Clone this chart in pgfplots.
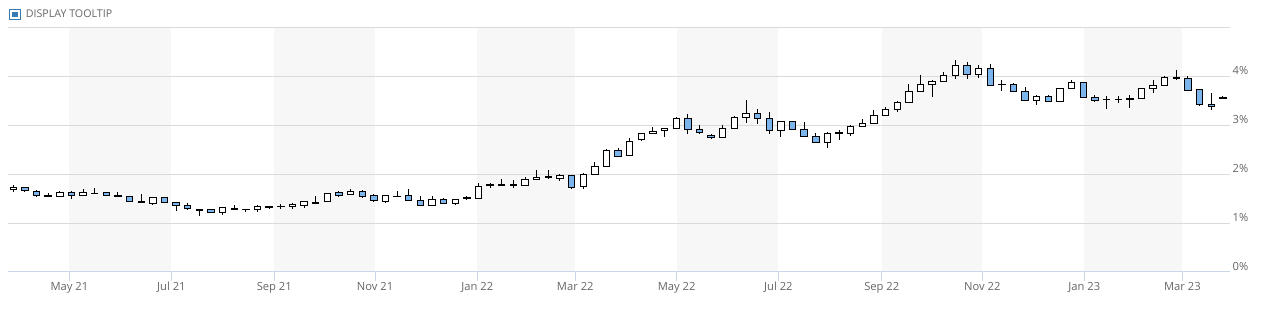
\documentclass[border=0pt]{standalone}
\usepackage{fontspec}
\setmainfont{Open Sans}
\usepackage{pgfplots}
\pgfplotsset{compat=1.18}
\usepackage{pgfplotstable}
\usepgfplotslibrary{statistics}
\definecolor{downblue}{HTML}{7CB5EC}
\definecolor{bandgray}{HTML}{F7F7F7}
\definecolor{gridgray}{HTML}{DADADA}
\definecolor{axisblue}{HTML}{CCD6EB}
\definecolor{labelgray}{HTML}{666666}
\definecolor{boxblue}{HTML}{3A7BB5}

% weekly candles: index, open, high, low, close (in %)
\pgfplotstableread{
i o h l c
0 1.68 1.77 1.64 1.73
1 1.72 1.73 1.63 1.66
2 1.65 1.68 1.54 1.56
3 1.54 1.62 1.54 1.56
4 1.55 1.66 1.55 1.62
5 1.62 1.65 1.50 1.56
6 1.57 1.69 1.57 1.62
7 1.60 1.71 1.60 1.61
8 1.62 1.62 1.57 1.57
9 1.56 1.63 1.54 1.54
10 1.55 1.56 1.44 1.44
11 1.43 1.59 1.42 1.45
12 1.41 1.53 1.37 1.53
13 1.53 1.53 1.42 1.42
14 1.43 1.44 1.25 1.35
15 1.35 1.42 1.28 1.29
16 1.26 1.28 1.14 1.28
17 1.27 1.27 1.22 1.22
18 1.22 1.31 1.16 1.31
19 1.28 1.37 1.27 1.29
20 1.27 1.29 1.22 1.28
21 1.27 1.37 1.22 1.33
22 1.31 1.34 1.30 1.33
23 1.33 1.39 1.29 1.345
24 1.33 1.41 1.29 1.38
25 1.35 1.44 1.30 1.44
26 1.41 1.56 1.41 1.43
27 1.44 1.61 1.44 1.61
28 1.62 1.65 1.54 1.57
29 1.58 1.69 1.58 1.65
30 1.64 1.67 1.53 1.54
31 1.56 1.60 1.45 1.46
32 1.45 1.56 1.42 1.56
33 1.54 1.65 1.54 1.55
34 1.56 1.70 1.47 1.47
35 1.47 1.56 1.36 1.36
36 1.36 1.55 1.36 1.48
37 1.48 1.52 1.39 1.41
38 1.41 1.49 1.36 1.49
39 1.50 1.56 1.47 1.52
40 1.51 1.81 1.51 1.75
41 1.76 1.82 1.71 1.78
42 1.76 1.90 1.76 1.78
43 1.77 1.89 1.71 1.79
44 1.77 1.95 1.77 1.90
45 1.90 2.08 1.90 1.94
46 1.93 2.08 1.92 1.95
47 1.92 2.01 1.85 1.97
48 1.97 1.97 1.69 1.73
49 1.75 2.03 1.70 1.99
50 1.99 2.25 1.99 2.15
51 2.16 2.52 2.16 2.48
52 2.49 2.54 2.34 2.37
53 2.38 2.73 2.38 2.66
54 2.71 2.83 2.68 2.83
55 2.83 2.97 2.83 2.88
56 2.90 2.94 2.75 2.94
57 2.94 3.16 2.94 3.14
58 3.14 3.23 2.83 2.91
59 2.92 3.01 2.82 2.86
60 2.79 2.82 2.72 2.75
61 2.75 3.00 2.75 2.94
62 2.94 3.18 2.94 3.16
63 3.16 3.51 3.05 3.24
64 3.24 3.33 3.03 3.14
65 3.14 3.26 2.83 2.90
66 2.90 3.09 2.76 3.08
67 3.08 3.09 2.91 2.91
68 2.91 3.06 2.77 2.77
69 2.76 2.84 2.64 2.64
70 2.64 2.87 2.53 2.83
71 2.83 2.91 2.69 2.85
72 2.83 3.01 2.78 2.97
73 2.97 3.12 2.97 3.03
74 3.03 3.31 3.03 3.20
75 3.20 3.38 3.20 3.33
76 3.32 3.50 3.27 3.47
77 3.47 3.84 3.47 3.69
78 3.69 4.03 3.69 3.84
79 3.84 3.93 3.58 3.90
80 3.90 4.08 3.88 4.02
81 4.02 4.34 3.95 4.22
82 4.22 4.29 3.95 4.03
83 4.03 4.23 3.97 4.16
84 4.16 4.25 3.82 3.82
85 3.83 3.92 3.69 3.84
86 3.83 3.86 3.67 3.69
87 3.69 3.79 3.51 3.51
88 3.51 3.61 3.42 3.59
89 3.59 3.62 3.47 3.49
90 3.49 3.75 3.49 3.75
91 3.76 3.92 3.76 3.88
92 3.88 3.88 3.57 3.57
93 3.57 3.62 3.47 3.51
94 3.52 3.60 3.34 3.53
95 3.52 3.59 3.45 3.53
96 3.53 3.62 3.36 3.55
97 3.54 3.76 3.54 3.74
98 3.74 3.92 3.65 3.82
99 3.82 4.00 3.82 3.97
100 3.96 4.12 3.93 3.97
101 3.96 4.01 3.71 3.71
102 3.72 3.74 3.39 3.43
103 3.43 3.65 3.32 3.38
104 3.55 3.59 3.54 3.56
}\candles

\pgfplotsset{candle/.style={draw=black, line width=0.75pt, solid, boxplot/draw direction=y}}

\begin{document}
\begin{tikzpicture}
% tooltip checkbox
\draw[boxblue, line width=0.75pt] (7pt,-6.9pt) rectangle (15.4pt,-14.8pt);
\fill[boxblue] (8.9pt,-8.8pt) rectangle (13.5pt,-12.9pt);
\node[anchor=base west, inner sep=0pt, text=labelgray, font=\fontsize{8}{9}\selectfont] at (19.2pt,-13.3pt) {DISPLAY TOOLTIP};
\begin{axis}[
  at={(6.225pt,-204pt)}, anchor=south west,
  scale only axis, width=915.9pt, height=183.5pt,
  xmin=-0.43, xmax=104.57, ymin=0, ymax=5,
  set layers,
  axis x line*=bottom, axis y line*=right,
  x axis line style={draw=axisblue, line width=0.75pt, -},
  y axis line style={draw=none},
  xtick={4.82,13.59,22.44,31.11,39.9,48.32,57.04,65.78,74.67,83.32,92.09,100.52},
  xticklabels={May 21,Jul 21,Sep 21,Nov 21,Jan 22,Mar 22,May 22,Jul 22,Sep 22,Nov 22,Jan 23,Mar 23},
  ytick={0,1,2,3,4,5},
  yticklabels={0\%,1\%,2\%,3\%,4\%,{}},
  ymajorgrids, grid style={draw=gridgray, line width=0.75pt},
  tick align=outside,
  major tick length=6.5pt,
  xtick style={draw=axisblue, line width=0.75pt},
  ytick style={draw=none},
  tick label style={font=\fontsize{8.4}{10}\selectfont, text=labelgray},
  xticklabel style={anchor=base, inner sep=0pt, yshift=-7.25pt},
  yticklabel style={anchor=base west, inner sep=0pt, xshift=-4.3pt, yshift=1pt},
]
% alternating month bands
\addplot[on layer=axis background, fill=bandgray, draw=none] coordinates {(4.82,5) (13.59,5)} \closedcycle;
\addplot[on layer=axis background, fill=bandgray, draw=none] coordinates {(22.44,5) (31.11,5)} \closedcycle;
\addplot[on layer=axis background, fill=bandgray, draw=none] coordinates {(39.9,5) (48.32,5)} \closedcycle;
\addplot[on layer=axis background, fill=bandgray, draw=none] coordinates {(57.04,5) (65.78,5)} \closedcycle;
\addplot[on layer=axis background, fill=bandgray, draw=none] coordinates {(74.67,5) (83.32,5)} \closedcycle;
\addplot[on layer=axis background, fill=bandgray, draw=none] coordinates {(92.09,5) (100.52,5)} \closedcycle;
% candles
\pgfplotstablegetrowsof{\candles}
\pgfmathtruncatemacro{\lastrow}{\pgfplotsretval-1}
\pgfplotsforeachungrouped \r in {0,...,\lastrow}{%
  \pgfplotstablegetelem{\r}{i}\of\candles\let\cX\pgfplotsretval
  \pgfplotstablegetelem{\r}{o}\of\candles\let\cO\pgfplotsretval
  \pgfplotstablegetelem{\r}{h}\of\candles\let\cH\pgfplotsretval
  \pgfplotstablegetelem{\r}{l}\of\candles\let\cL\pgfplotsretval
  \pgfplotstablegetelem{\r}{c}\of\candles\let\cC\pgfplotsretval
  \ifdim\cC pt<\cO pt
    \def\cFill{downblue}\let\cLo\cC\let\cHi\cO
  \else
    \def\cFill{white}\let\cLo\cO\let\cHi\cC
  \fi
  \edef\candleplot{\noexpand\addplot[candle, fill=\cFill, boxplot prepared={draw direction=y, draw position=\cX, lower whisker=\cL, lower quartile=\cLo, median=\cLo, upper quartile=\cHi, upper whisker=\cH, box extend=0.55, whisker extend=0}] coordinates {};}%
  \candleplot
}
\end{axis}
\pgfresetboundingbox
\useasboundingbox (0pt,0pt) rectangle (945.75pt,-231.75pt);
\end{tikzpicture}
\end{document}
